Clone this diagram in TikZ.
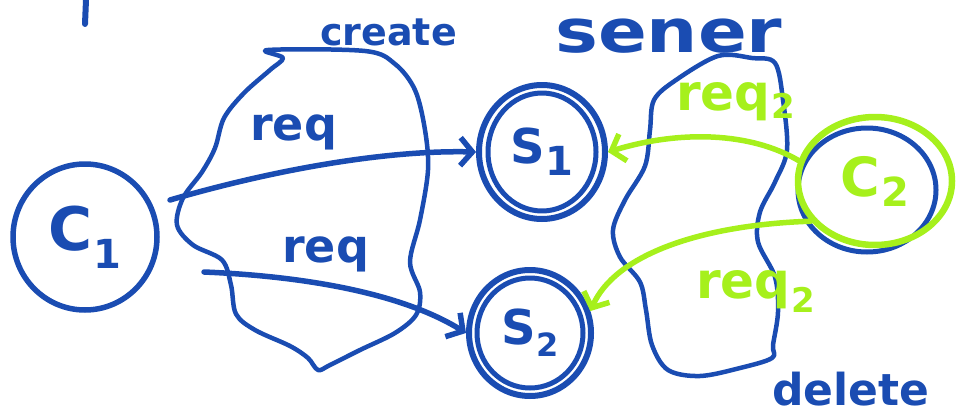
\documentclass[tikz,border=0pt]{standalone}
\usepackage{fontspec}
\setmainfont{DejaVu Sans}
\usetikzlibrary{arrows.meta,shapes.geometric}
\definecolor{ink}{RGB}{26,76,178}
\definecolor{lime}{RGB}{166,240,28}
\newcommand{\fsz}[1]{\fontsize{#1}{#1}\selectfont}
\newcommand{\lowsub}[2]{\kern1pt\raisebox{-#1}{#2}}
\begin{document}
\begin{tikzpicture}[x=1pt,y=-1pt,
  pen/.style={ink, line width=4.5pt, line cap=round, line join=round},
  hl/.style={lime, line width=5.5pt, line cap=round, line join=round},
  ring/.style={ellipse, draw, inner sep=0pt, font=\bfseries},
  word/.style={inner sep=0pt, anchor=base west, font=\bfseries},
  barb/.style={-{Straight Barb[length=12pt,width=28pt]}},
]
\useasboundingbox (0,0) rectangle (961,415);

% stray stroke at the top left
\draw[pen, line width=6pt] (86,0) -- (85,24);

% clients and servers
\node (C1) [ring, pen, line width=5.5pt, minimum width=144pt, minimum height=146pt]
  at (85,237) {\fsz{60}C\lowsub{18pt}{\fsz{40}1}};
\node (S1) [ring, pen, line width=6pt, minimum width=126pt, minimum height=134pt]
  at (542,152) {\fsz{48}S\lowsub{12pt}{\fsz{40}1}};
\draw[pen, line width=5pt] (S1.center) ellipse [x radius=54, y radius=59];
\node (S2) [ring, pen, line width=6pt, minimum width=122pt, minimum height=126pt]
  at (530,333) {\fsz{48}S\lowsub{12pt}{\fsz{32}2}};
\draw[pen, line width=5pt] (S2.center) ellipse [x radius=53, y radius=55];
\node (C2b) [ring, pen, line width=5pt, minimum width=138pt, minimum height=124pt]
  at (867,190) {};
\node (C2) [ring, hl, line width=6.5pt, minimum width=154pt, minimum height=128pt]
  at (875,181) {\fsz{54}C\lowsub{10pt}{\fsz{40}2}};

% region around the created requests
\draw[pen] plot[smooth cycle, tension=0.55] coordinates {
  (268,50) (365,51) (395,64) (415,90) (425,130) (428,170) (420,220)
  (410,262) (420,292) (416,315) (395,333) (360,350) (330,365) (318,370)
  (308,358) (290,346) (255,330) (236,314) (231,285) (222,260) (193,245)
  (177,225) (183,198) (202,172) (215,148) (224,118) (244,93) (270,70) (283,58)};
\node[word, ink] at (320,45) {\fsz{38}create};

% region around the deleted requests
\draw[pen] plot[smooth cycle, tension=0.55] coordinates {
  (752,58) (775,63) (783,100) (787,150) (775,182) (760,212) (758,242)
  (775,277) (778,312) (773,345) (772,358) (740,368) (700,376) (668,370)
  (652,345) (646,310) (640,282) (620,257) (613,230) (625,200) (645,166)
  (650,130) (654,100) (676,80) (718,56)};
\node[word, ink] at (555,52) {\scalebox{1.2}[1]{\fsz{60}sener}};
\node[word, ink] at (772,405) {\fsz{44}delete};

% requests from C1
\coordinate (c1a) at (170,200);
\coordinate (c1b) at (204,272);
\draw[pen, line width=5.5pt, barb] (c1a) .. controls (280,168) and (390,150) .. (S1.west);
\draw[pen, line width=5.5pt, barb] (c1b) .. controls (300,276) and (400,292) .. (S2.west);
\node[word, ink] at (250,140) {\fsz{46}req};
\node[word, ink] at (282,262) {\fsz{46}req};

% requests from C2
\draw[hl, barb] (C2.165) .. controls (750,132) and (680,130) .. (S1.east);
\draw[hl, barb] (C2.212) .. controls (700,225) and (615,255) .. (S2.20);
\node[word, lime] at (676,110) {\fsz{50}req\lowsub{8pt}{\fsz{34}2}};
\node[word, lime] at (696,298) {\fsz{50}req\lowsub{14pt}{\fsz{34}2}};
\end{tikzpicture}
\end{document}
